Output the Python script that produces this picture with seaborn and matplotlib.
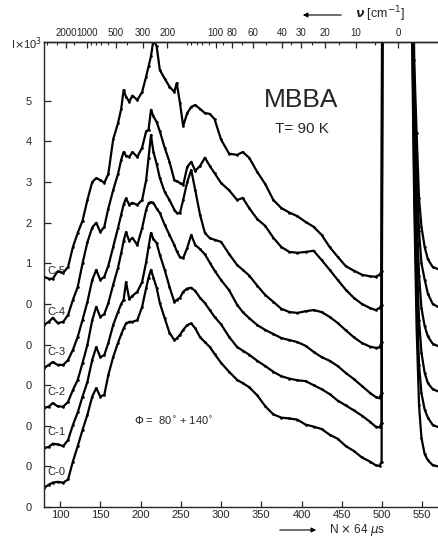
import numpy as np
import pandas as pd
import matplotlib
matplotlib.use("Agg")
import matplotlib.pyplot as plt
import seaborn as sns

# ---------------- data (channel N, intensity in 10^3 counts) ----------------
channels = [80, 86, 91, 97, 104, 110, 116, 122, 128, 134,
            140, 145, 150, 155, 160, 166, 172, 176, 179, 182,
            186, 190, 196, 202, 207, 210, 213, 216, 220, 224,
            230, 236, 242, 245, 249, 253, 258, 263, 268, 274,
            280, 286, 292, 300, 310, 320, 327, 335, 345, 355,
            365, 375, 385, 395, 405, 415, 425, 435, 445, 455,
            465, 475, 485, 492, 497, 499.5, 500.5]

c0 = [0.47, 0.55, 0.60, 0.62, 0.60, 0.68, 1.12, 1.50, 1.90, 2.27,
      2.72, 2.93, 2.72, 2.76, 3.25, 3.69, 4.04, 4.25, 4.40, 4.52,
      4.56, 4.56, 4.60, 4.93, 5.39, 5.65, 5.84, 5.65, 5.40, 5.02,
      4.65, 4.29, 4.11, 4.15, 4.24, 4.36, 4.48, 4.52, 4.40, 4.18,
      4.06, 3.94, 3.77, 3.55, 3.33, 3.13, 3.05, 2.95, 2.75, 2.48,
      2.28, 2.20, 2.18, 2.15, 2.03, 1.98, 1.92, 1.78, 1.68, 1.50,
      1.38, 1.22, 1.12, 1.03, 1.01, 1.12, 12.0]
c1 = [0.45, 0.48, 0.56, 0.54, 0.50, 0.65, 1.02, 1.33, 1.72, 2.08,
      2.62, 2.94, 2.69, 2.74, 3.04, 3.48, 3.80, 4.00, 4.10, 4.54,
      4.12, 4.20, 4.30, 4.54, 5.03, 5.40, 5.75, 5.60, 5.50, 5.21,
      4.84, 4.42, 4.05, 4.10, 4.15, 4.30, 4.38, 4.40, 4.32, 4.15,
      4.02, 3.85, 3.68, 3.50, 3.19, 2.94, 2.85, 2.75, 2.60, 2.47,
      2.33, 2.22, 2.16, 2.12, 2.10, 2.00, 1.90, 1.78, 1.62, 1.50,
      1.38, 1.25, 1.10, 0.98, 0.96, 1.07, 12.0]
c2 = [0.44, 0.47, 0.56, 0.48, 0.47, 0.59, 0.88, 1.13, 1.55, 1.99,
      2.60, 2.93, 2.68, 2.75, 3.02, 3.47, 3.89, 4.25, 4.55, 4.77,
      4.55, 4.63, 4.45, 4.87, 5.32, 5.48, 5.51, 5.49, 5.35, 5.24,
      4.95, 4.70, 4.45, 4.30, 4.15, 4.13, 4.38, 4.70, 4.45, 4.35,
      4.22, 4.02, 3.82, 3.59, 3.34, 2.98, 2.80, 2.65, 2.48, 2.36,
      2.26, 2.16, 2.11, 2.06, 1.97, 1.82, 1.69, 1.60, 1.47, 1.30,
      1.15, 0.98, 0.81, 0.71, 0.68, 0.81, 12.0]
c3 = [0.42, 0.50, 0.57, 0.50, 0.50, 0.62, 0.87, 1.19, 1.61, 2.05,
      2.59, 2.84, 2.59, 2.67, 2.94, 3.40, 3.87, 4.20, 4.45, 4.60,
      4.44, 4.49, 4.44, 4.56, 5.05, 5.60, 6.16, 5.75, 5.45, 5.10,
      4.76, 4.56, 4.32, 4.24, 4.24, 4.56, 5.00, 5.30, 4.80, 4.19,
      3.75, 3.62, 3.58, 3.53, 3.23, 2.96, 2.84, 2.70, 2.45, 2.22,
      2.05, 1.88, 1.80, 1.78, 1.82, 1.85, 1.80, 1.68, 1.53, 1.35,
      1.18, 1.04, 0.95, 0.92, 0.93, 1.06, 12.0]
c4 = [0.48, 0.56, 0.66, 0.53, 0.56, 0.73, 1.10, 1.42, 2.00, 2.52,
      2.88, 3.00, 2.77, 2.90, 3.35, 3.80, 4.20, 4.55, 4.74, 4.65,
      4.62, 4.74, 4.62, 4.85, 5.25, 5.29, 5.78, 5.62, 5.48, 5.25,
      4.85, 4.50, 4.05, 4.02, 3.98, 3.93, 4.37, 4.50, 4.28, 4.40,
      4.60, 4.40, 4.22, 3.98, 3.80, 3.56, 3.61, 3.36, 3.09, 2.92,
      2.63, 2.40, 2.28, 2.26, 2.28, 2.31, 2.08, 1.84, 1.59, 1.35,
      1.15, 1.00, 0.90, 0.85, 0.90, 0.98, 12.0]
c5 = [0.67, 0.62, 0.62, 0.80, 0.77, 0.91, 1.40, 1.75, 2.05, 2.56,
      3.00, 3.10, 3.05, 2.98, 3.20, 4.05, 4.45, 4.80, 5.27, 5.10,
      4.98, 5.13, 5.02, 5.22, 5.60, 5.85, 6.10, 6.50, 6.35, 5.76,
      5.55, 5.35, 5.22, 5.44, 4.95, 4.38, 4.70, 4.85, 4.90, 4.80,
      4.70, 4.68, 4.55, 4.05, 3.70, 3.67, 3.74, 3.60, 3.25, 2.95,
      2.56, 2.36, 2.25, 2.16, 2.02, 1.90, 1.70, 1.40, 1.16, 0.93,
      0.82, 0.72, 0.68, 0.67, 0.72, 0.80, 12.0]

# elastic-side (right of the gap)
channels_r = [537, 540, 543, 546, 549, 553, 557, 563, 572]
c0_r = [12.0, 7.5, 4.4, 2.5, 1.70, 1.30, 1.15, 1.03, 0.99]
c1_r = [12.0, 7.0, 4.2, 2.5, 1.80, 1.40, 1.20, 1.02, 0.95]
c2_r = [12.0, 6.8, 4.2, 2.6, 1.80, 1.30, 1.05, 0.90, 0.83]
c3_r = [12.0, 6.8, 4.3, 2.7, 1.90, 1.45, 1.20, 1.02, 0.94]
c4_r = [12.0, 6.5, 4.3, 2.8, 2.00, 1.60, 1.25, 1.00, 0.90]
c5_r = [12.0, 6.0, 4.2, 2.6, 1.90, 1.40, 1.10, 0.91, 0.84]

curve_names = ["C-0", "C-1", "C-2", "C-3", "C-4", "C-5"]
left_series = [c0, c1, c2, c3, c4, c5]
right_series = [c0_r, c1_r, c2_r, c3_r, c4_r, c5_r]

x_ticks = [100, 150, 200, 250, 300, 350, 400, 450, 500, 550]
y_tick_labels = ["0", "0", "0", "0", "0", "0", "1", "2", "3", "4", "5"]
nu_major = [2000, 1000, 500, 300, 200, 100, 80, 60, 40, 30, 20, 10, 0]
nu_minor = [5000, 3000, 1500, 900, 800, 700, 600, 400, 250, 150, 140, 130,
            120, 110, 90, 70, 50, 35, 25, 15, 5]

# time-of-flight -> energy transfer calibration (from top scale)
A_OFF, B_SCALE, E0 = 42.7, 2942.5, 38.0


def n_to_nu(n):
    n = np.asarray(n, dtype=float)
    return (B_SCALE / np.clip(n - A_OFF, 1e-3, None)) ** 2 - E0


def nu_to_n(nu):
    nu = np.asarray(nu, dtype=float)
    return A_OFF + B_SCALE / np.sqrt(np.clip(nu + E0, 1e-3, None))


# ---------------- build long table ----------------
rows = []
for k, (name, left, right) in enumerate(zip(curve_names, left_series, right_series)):
    for n, v in zip(channels, left):
        rows.append((name + "a", n, v + k))
    for n, v in zip(channels_r, right):
        rows.append((name + "b", n, v + k))
df = pd.DataFrame(rows, columns=["unit", "N", "y"])

# ---------------- plot ----------------
sns.set_style("ticks")
plt.rcParams["font.family"] = ["Liberation Sans", "DejaVu Sans"]
plt.rcParams["mathtext.fontset"] = "dejavusans"

W, H = 439, 539
fig = plt.figure(figsize=(W / 100, H / 100), dpi=100)
ax = fig.add_axes([44 / W, 32 / H, 395 / W, 465 / H])

sns.lineplot(data=df, x="N", y="y", units="unit", estimator=None, sort=False,
             color="black", lw=1.6, marker="o", markersize=1.9,
             markeredgewidth=0, legend=False, ax=ax)

ax.set_xlim(80.1, 570.8)
ax.set_ylim(0, 11.45)
ax.set_xlabel("")
ax.set_ylabel("")
ax.set_xticks(x_ticks)
ax.set_xticklabels([str(t) for t in x_ticks], fontsize=8)
ax.set_yticks(range(len(y_tick_labels)))
ax.set_yticklabels(y_tick_labels, fontsize=8)
ax.tick_params(axis="x", direction="in", length=4, width=0.9, pad=2, top=False)
ax.tick_params(axis="y", direction="in", length=5, width=0.9, pad=9, right=False)
ax.spines["right"].set_visible(False)
for s in ("left", "bottom", "top"):
    ax.spines[s].set_linewidth(1.0)

sec = ax.secondary_xaxis("top", functions=(n_to_nu, nu_to_n))
sec.set_xticks(nu_major)
sec.set_xticklabels([str(v) for v in nu_major], fontsize=7,
                    family=["Liberation Sans Narrow", "Liberation Sans", "DejaVu Sans"])
sec.set_xticks(nu_minor, minor=True)
sec.tick_params(axis="x", which="major", direction="in", length=4, width=0.9, pad=3)
sec.tick_params(axis="x", which="minor", direction="in", length=2.5, width=0.8)
sec.spines["top"].set_linewidth(1.0)


def fpos(x, y):
    return x / W, 1 - y / H


# curve labels
label_y = [472, 432, 392, 352, 312, 271]
for name, yy in zip(curve_names, label_y):
    fig.text(*fpos(47, yy), name, fontsize=8, ha="left", va="center")

fig.text(*fpos(301, 100), "MBBA", fontsize=19, ha="center", va="center")
fig.text(*fpos(302, 129), "T= 90 K", fontsize=11, ha="center", va="center")
fig.text(*fpos(174, 421), r"$\Phi$ =  80$^{\circ}$ + 140$^{\circ}$", fontsize=8,
         ha="center", va="center")
fig.text(*fpos(27, 44), r"I$\times$10$^3$", fontsize=8, ha="center", va="center")

# top unit with left arrow
fig.text(*fpos(380, 14), r"$\boldsymbol{\nu}$ [cm$^{-1}$]", fontsize=9,
         ha="center", va="center")
ax.annotate("", xy=fpos(300, 15), xytext=fpos(344, 15), xycoords="figure fraction",
            textcoords="figure fraction",
            arrowprops=dict(arrowstyle="-|>", lw=0.8, color="black",
                            mutation_scale=7))
# bottom unit with right arrow
fig.text(*fpos(357, 530), r"N $\times$ 64 $\mu$s", fontsize=8.5,
         ha="center", va="center")
ax.annotate("", xy=fpos(319, 530), xytext=fpos(277, 530), xycoords="figure fraction",
            textcoords="figure fraction",
            arrowprops=dict(arrowstyle="-|>", lw=0.8, color="black",
                            mutation_scale=7))

fig.savefig("out.png", dpi=100)
